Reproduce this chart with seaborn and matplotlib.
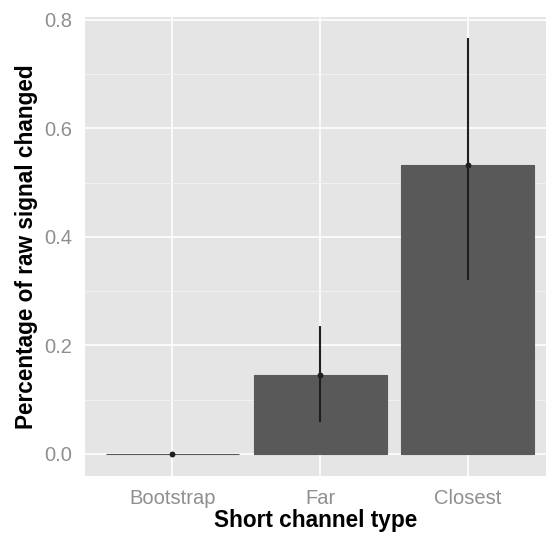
import matplotlib
matplotlib.use("Agg")
import matplotlib.pyplot as plt
import seaborn as sns
import pandas as pd
from matplotlib.ticker import MultipleLocator

# Data
channel_types = ["Bootstrap", "Far", "Closest"]
mean_changed = [0.0, 0.145, 0.532]
lower_ci = [0.0, 0.059, 0.320]
upper_ci = [0.0, 0.235, 0.766]
y_ticks = [0.0, 0.2, 0.4, 0.6, 0.8]

df = pd.DataFrame({"type": channel_types, "value": mean_changed})

sns.set_theme(style="darkgrid")
plt.rcParams["font.family"] = ["Liberation Sans", "DejaVu Sans"]

W, H = 546, 533
fig = plt.figure(figsize=(W / 100, H / 100), dpi=100)
left, right, top, bottom = 84.5, 546, 17, 476
ax = fig.add_axes([left / W, 1 - bottom / H, (right - left) / W, (bottom - top) / H])

ax.set_facecolor("#E5E5E5")
bar_color = "#595959"
sns.barplot(data=df, x="type", y="value", order=channel_types, color=bar_color,
            saturation=1, width=0.9, errorbar=None, ax=ax,
            edgecolor=bar_color, linewidth=0.8, zorder=2)

# Error bars and mean points
xs = list(range(len(channel_types)))
ax.vlines(xs, lower_ci, upper_ci, colors="#1f1f1f", linewidth=1.5, zorder=3)
ax.scatter(xs, mean_changed, s=18, color="#1f1f1f", zorder=4, linewidths=0)

ax.set_xlim(-0.595, 2.53)
ax.set_ylim(-0.0406, 0.8055)
ax.set_yticks(y_ticks)
ax.set_yticklabels([f"{t:.1f}" for t in y_ticks])
ax.yaxis.set_minor_locator(MultipleLocator(0.1))

ax.grid(which="major", color="white", linewidth=1.2, zorder=0)
ax.grid(which="minor", axis="y", color="#F2F2F2", linewidth=0.7, zorder=0)
ax.grid(which="minor", axis="x", visible=False)
ax.set_axisbelow(True)
for s in ax.spines.values():
    s.set_visible(False)

ax.tick_params(axis="both", which="major", length=4, width=0.8, color="#7F7F7F",
               labelcolor="#8F8F8F", labelsize=14.5)
ax.tick_params(axis="y", which="major", pad=5)
ax.tick_params(axis="x", which="major", pad=5)
ax.tick_params(axis="both", which="minor", length=0)

ax.set_xlabel("Short channel type", fontsize=16.3, fontweight="bold", color="black", labelpad=1)
ax.set_ylabel("Percentage of raw signal changed", fontsize=16.3, fontweight="bold",
              color="black", labelpad=4)

fig.savefig("out.png", dpi=100)
